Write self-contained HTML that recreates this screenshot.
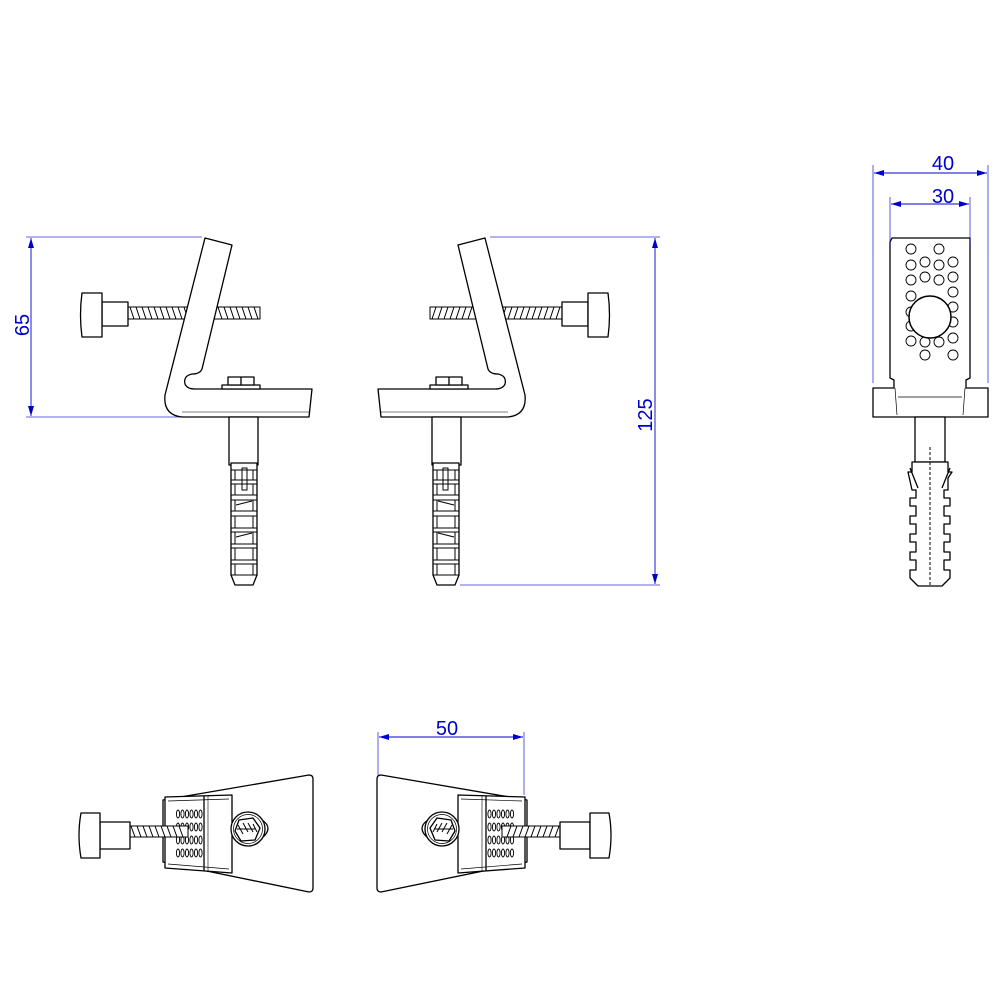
<!DOCTYPE html>
<html><head><meta charset="utf-8"><style>
html,body{margin:0;padding:0;background:#fff;}
svg{display:block}
text{font-family:"Liberation Sans",sans-serif;fill:#0000cc;font-size:20px}
</style></head><body>
<svg width="1000" height="1000" viewBox="0 0 1000 1000" xmlns="http://www.w3.org/2000/svg">
<defs>
<marker id="ar" viewBox="0 0 10 6" refX="10" refY="3" markerWidth="10" markerHeight="6" orient="auto-start-reverse" markerUnits="userSpaceOnUse"><path d="M0,0 L10,3 L0,6 z" fill="#0000cc"/></marker>
<g id="ovrow" fill="#fff" stroke="#000" stroke-width="0.9"><ellipse cx="178" cy="0" rx="1.6" ry="4"/><ellipse cx="182.5" cy="0" rx="1.6" ry="4"/><ellipse cx="187" cy="0" rx="1.6" ry="4"/><ellipse cx="191.5" cy="0" rx="1.6" ry="4"/><ellipse cx="196" cy="0" rx="1.6" ry="4"/><ellipse cx="200.5" cy="0" rx="1.6" ry="4"/></g>
<g id="side" fill="#fff" stroke="#000" stroke-width="1.3" stroke-linejoin="round">
  <g stroke-width="1">
    <rect x="127" y="307" width="133" height="12" fill="#fff"/>
    <path d="M130,307 l4,12 M136,307 l4,12 M142,307 l4,12 M148,307 l4,12 M154,307 l4,12 M160,307 l4,12 M166,307 l4,12 M172,307 l4,12 M178,307 l4,12 M184,307 l4,12 M190,307 l4,12 M218,307 l4,12 M224,307 l4,12 M230,307 l4,12 M236,307 l4,12 M242,307 l4,12 M248,307 l4,12 M254,307 l4,12" fill="none"/>
  </g>
  <rect x="102" y="302" width="26" height="24"/>
  <path d="M82,293 L102,293 L102,337 L82,337 Q79,315 82,293 z"/>
  <path d="M205,238 L232,245 L202,369 Q200,374 192,374 Q183,376 185,384 Q187,389 195,389 L312,389 L309,417 L182,417 Q163,415 165,395 z"/>
  <line x1="182" y1="412" x2="309" y2="412" stroke-width="0.6"/>
  <rect x="222" y="385" width="38" height="4"/>
  <rect x="228" y="377" width="26" height="8"/>
  <line x1="241" y1="377" x2="241" y2="385"/>
  <rect x="229" y="417" width="29" height="48"/>
  <path d="M231,463 L257,463 L257,575 L253,585 L235,585 L231,575 z"/>
  <g fill="none" stroke-width="1">
    <path d="M231,470 L257,470 M231,480 L257,480 M231,484 L257,484 M231,495 L257,495 M231,500 L257,500 M231,511 L257,511 M231,516 L257,516 M231,528 L257,528 M231,532 L257,532 M231,544 L257,544 M231,548 L257,548 M231,560 L257,560 M231,564 L257,564 M231,575 L257,575"/>
    <path d="M235,470 L235,480 M253,470 L253,480 M235,484 L235,495 M253,484 L253,495 M235,500 L235,511 M253,500 L253,511 M235,516 L235,528 M253,516 L253,528 M235,532 L235,544 M253,532 L253,544 M235,548 L235,560 M253,548 L253,560 M235,564 L235,575 M253,564 L253,575"/>
    <rect x="242" y="468" width="5" height="22"/>
    <path d="M236,505 L252,501 M236,537 L252,533"/>
  </g>
</g>
<g id="top" fill="#fff" stroke="#000" stroke-width="1.3" stroke-linejoin="round">
  <path d="M163,800 L309,775 Q313,775 313,779 L313,888 Q313,892 309,892 L163,862 z"/>
  <path d="M165,797 L232,795 L232,873 L165,868 z"/>
  <path d="M168,801 L229,799 M168,864 L229,869" fill="none" stroke-width="0.7"/>
  <line x1="204" y1="796" x2="204" y2="871"/>
  <line x1="208" y1="796" x2="208" y2="871" stroke-width="0.6"/>
  <use href="#ovrow" y="814"/><use href="#ovrow" y="827"/><use href="#ovrow" y="840"/><use href="#ovrow" y="853"/>
  <g stroke-width="1">
    <rect x="128" y="826" width="60" height="11"/>
    <path d="M131,826 l4,11 M137,826 l4,11 M143,826 l4,11 M149,826 l4,11 M155,826 l4,11 M161,826 l4,11 M167,826 l4,11 M173,826 l4,11 M179,826 l4,11" fill="none"/>
  </g>
  <rect x="100" y="822" width="30" height="27"/>
  <path d="M81,813 L100,813 L100,858 L81,858 Q77,835 81,813 z"/>
  <path d="M262,820 Q274,828 262,838" />
  <circle cx="248" cy="829" r="17"/>
  <circle cx="248" cy="829" r="14.5" stroke-width="0.7"/>
  <path d="M239,820 L253,818 L260,828 L255,840 L241,841 L235,831 z"/>
  <path d="M238,825 l5,9 M243,823 l5,9 M248,823 l5,9 M253,824 l4,8 M237,829 l18,0" fill="none" stroke-width="1"/>
</g>
</defs>

<use href="#side"/>
<use href="#side" transform="translate(690,0) scale(-1,1)"/>
<use href="#top"/>
<use href="#top" transform="translate(690,0) scale(-1,1)"/>

<g fill="#fff" stroke="#000" stroke-width="1.3" stroke-linejoin="round">
  <path d="M892,238 L970,238 L970,378 L966,380 L966,388 L988,388 L988,417 L873,417 L873,388 L894,388 L894,380 L890,378 L890,242 z"/>
  <line x1="898" y1="397" x2="962" y2="397" stroke-width="0.7"/>
  <path d="M895,388 L897,415 M965,388 L963,415" fill="none" stroke-width="0.7"/>
  <g stroke-width="0.9">
    <circle cx="911" cy="249" r="5"/><circle cx="939" cy="249" r="5"/>
    <circle cx="911" cy="265" r="5"/><circle cx="925" cy="262" r="5"/><circle cx="939" cy="265" r="5"/><circle cx="953" cy="262" r="5"/>
    <circle cx="911" cy="280" r="5"/><circle cx="925" cy="277" r="5"/><circle cx="939" cy="280" r="5"/><circle cx="953" cy="277" r="5"/>
    <circle cx="911" cy="296" r="5"/><circle cx="953" cy="292" r="5"/>
    <circle cx="953" cy="307" r="5"/><circle cx="911" cy="312" r="5"/>
    <circle cx="953" cy="322" r="5"/><circle cx="911" cy="326" r="5"/>
    <circle cx="911" cy="341" r="5"/><circle cx="925" cy="342" r="5"/><circle cx="939" cy="342" r="5"/><circle cx="953" cy="338" r="5"/>
    <circle cx="925" cy="355" r="5"/><circle cx="953" cy="355" r="5"/>
  </g>
  <circle cx="930" cy="317" r="21" stroke-width="1.5"/>
  <rect x="915" y="417" width="30" height="45"/>
  <path d="M912,462 L948,462 L948,472 L952,472 L948,478 L948,490 L944,490 L944,498 L950,498 L950,506 L944,506 L944,516 L950,516 L950,524 L944,524 L944,534 L950,534 L950,542 L944,542 L944,552 L950,552 L950,560 L944,560 L944,570 L950,570 L950,578 L942,586 L918,586 L910,578 L910,570 L916,570 L916,560 L910,560 L910,552 L916,552 L916,542 L910,542 L910,534 L916,534 L916,524 L910,524 L910,516 L916,516 L916,506 L910,506 L910,498 L916,498 L916,490 L912,490 L908,472 L912,472 z"/>
  <path d="M910,468 L918,488 M950,468 L942,488" fill="none"/>
  <line x1="930" y1="447" x2="930" y2="586" stroke-width="1" stroke-dasharray="3,2"/>
</g>

<g stroke="#0000cc" stroke-width="0.8" fill="none" opacity="0.8">
  <line x1="26" y1="237" x2="202" y2="237"/>
  <line x1="26" y1="417" x2="180" y2="417"/>
  <line x1="490" y1="237" x2="660" y2="237"/>
  <line x1="460" y1="585" x2="660" y2="585"/>
  <line x1="873" y1="165" x2="873" y2="383"/>
  <line x1="988" y1="165" x2="988" y2="383"/>
  <line x1="890" y1="197" x2="890" y2="245"/>
  <line x1="970" y1="197" x2="970" y2="245"/>
  <line x1="378" y1="732" x2="378" y2="775"/>
  <line x1="524" y1="732" x2="524" y2="795"/>
</g>
<g stroke="#0000cc" stroke-width="0.9" fill="none">
  <line x1="31" y1="238" x2="31" y2="416" marker-start="url(#ar)" marker-end="url(#ar)"/>
  <line x1="655" y1="238" x2="655" y2="584" marker-start="url(#ar)" marker-end="url(#ar)"/>
  <line x1="874" y1="173" x2="987" y2="173" marker-start="url(#ar)" marker-end="url(#ar)"/>
  <line x1="891" y1="204" x2="969" y2="204" marker-start="url(#ar)" marker-end="url(#ar)"/>
  <line x1="379" y1="737" x2="523" y2="737" marker-start="url(#ar)" marker-end="url(#ar)"/>
</g>
<text x="22" y="332" text-anchor="middle" transform="rotate(-90 22 325)">65</text>
<text x="645" y="422" text-anchor="middle" transform="rotate(-90 645 415)">125</text>
<text x="943" y="170" text-anchor="middle">40</text>
<text x="943" y="203" text-anchor="middle">30</text>
<text x="447" y="735" text-anchor="middle">50</text>
</svg>
</body></html>
